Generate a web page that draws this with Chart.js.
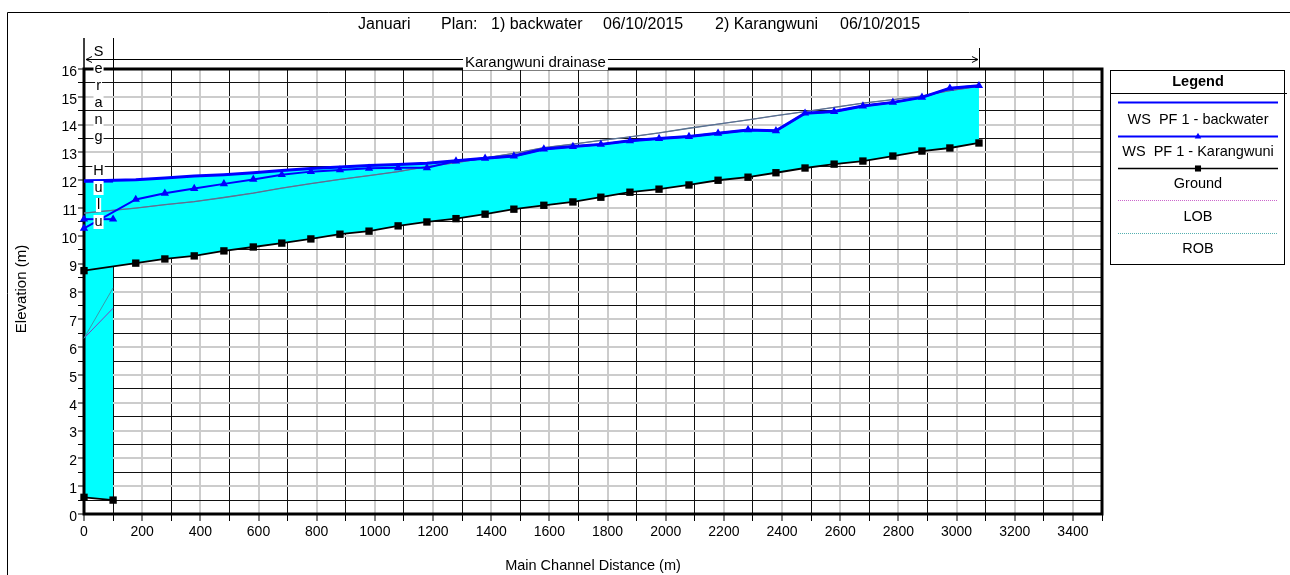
<!DOCTYPE html>
<html>
<head>
<meta charset="utf-8">
<title>Profil Karangwuni</title>
<script src="https://cdn.jsdelivr.net/npm/chart.js@4.4.1/dist/chart.umd.min.js"></script>
<style>
  html, body { margin: 0; padding: 0; background: #fff; }
  #wrap { width: 1290px; height: 575px; }
</style>
</head>
<body>
<div id="wrap"><canvas id="profile" width="1290" height="575"></canvas></div>
<script>
// Karangwuni drainase reach (main channel distance, m)
const stations = [0, 178, 278, 379, 481, 582, 680, 780, 880, 980, 1080, 1179, 1279, 1379, 1478,
  1581, 1681, 1777, 1877, 1977, 2080, 2180, 2283, 2379, 2479, 2579, 2678, 2781, 2881, 2977, 3077];
const groundElev = [8.75, 9.02, 9.17, 9.28, 9.46, 9.6, 9.74, 9.89, 10.06, 10.17, 10.36, 10.5, 10.62, 10.78, 10.96,
  11.1, 11.22, 11.39, 11.57, 11.68, 11.83, 12.0, 12.11, 12.27, 12.44, 12.58, 12.69, 12.87, 13.05, 13.16, 13.34];
const wsKarangwuni = [10.27, 11.31, 11.53, 11.7, 11.87, 12.03, 12.2, 12.31, 12.37, 12.43, 12.45, 12.45, 12.69, 12.79, 12.87,
  13.12, 13.21, 13.29, 13.42, 13.5, 13.57, 13.69, 13.81, 13.78, 14.41, 14.47, 14.67, 14.8, 14.98, 15.31, 15.4];
const wsBackwater = [11.97, 12.02, 12.08, 12.15, 12.2, 12.27, 12.35, 12.42, 12.48, 12.53, 12.57, 12.61, 12.7, 12.79, 12.87,
  13.12, 13.21, 13.29, 13.42, 13.5, 13.57, 13.69, 13.81, 13.78, 14.41, 14.47, 14.67, 14.8, 14.98, 15.31, 15.4];
const lobElev = [10.82, 11.0, 11.12, 11.23, 11.38, 11.54, 11.72, 11.88, 12.03, 12.17, 12.31, 12.49, 12.63, 12.8, 12.97,
  13.17, 13.3, 13.43, 13.56, 13.7, 13.87, 14.02, 14.17, 14.32, 14.47, 14.62, 14.77, 14.9, 15.03, 15.22, 15.38];
const robElev = lobElev;

// Serang Hulu reach
const shStations = [0, 100];
const shGround = [0.6, 0.5];
const shWsBackwater = [11.97, 11.97];
const shWsKarangwuni = [10.6, 10.6];
const shLob = [6.32, 7.4];
const shRob = [6.32, 8.13];

const legendLabels = ['WS  PF 1 - backwater', 'WS  PF 1 - Karangwuni', 'Ground', 'LOB', 'ROB'];
const titleParts = ['Januari', 'Plan:', '1) backwater', '06/10/2015', '2) Karangwuni', '06/10/2015'];

const FONT = 'Liberation Sans, Arial, sans-serif';
Chart.defaults.font.family = FONT;
Chart.defaults.color = '#000';

function pts(xs, ys) {
  return xs.map((x, i) => ({ x: x, y: ys[i] }));
}

const CYAN = '#00ffff';
const BLUE = '#0000ff';
const TRI_R = 4.8;
const SQ_R = 5.2;

const datasets = [
  // 0 - backwater WS, Karangwuni reach (fills down to ground, index 2)
  { label: 'bw', data: pts(stations, wsBackwater), borderColor: BLUE, borderWidth: 3, pointRadius: 0,
    fill: 2, backgroundColor: CYAN, order: 3 },
  // 1 - Karangwuni WS
  { label: 'kw', data: pts(stations, wsKarangwuni), borderColor: BLUE, borderWidth: 2,
    pointStyle: 'triangle', pointRadius: TRI_R, pointBackgroundColor: BLUE, pointBorderWidth: 0, fill: false, order: 0 },
  // 2 - ground
  { label: 'ground', data: pts(stations, groundElev), borderColor: '#000', borderWidth: 1.8,
    pointStyle: 'rect', pointRadius: SQ_R, pointBackgroundColor: '#000', pointBorderWidth: 0, fill: false, order: 1 },
  // 3,4 - banks
  { label: 'lob', data: pts(stations, lobElev), borderColor: '#9a6ab8', borderWidth: 1, pointRadius: 0, fill: false, order: 5 },
  { label: 'rob', data: pts(stations, robElev), borderColor: '#56758f', borderWidth: 1.3, pointRadius: 0, fill: false, order: 4 },
  // 5 - backwater WS, Serang Hulu (fills to its ground, index 7)
  { label: 'sh bw', data: pts(shStations, shWsBackwater), borderColor: BLUE, borderWidth: 3, pointRadius: 0,
    fill: 7, backgroundColor: CYAN, order: 3 },
  { label: 'sh kw', data: pts(shStations, shWsKarangwuni), borderColor: BLUE, borderWidth: 2,
    pointStyle: 'triangle', pointRadius: TRI_R, pointBackgroundColor: BLUE, pointBorderWidth: 0, fill: false, order: 0 },
  { label: 'sh ground', data: pts(shStations, shGround), borderColor: '#000', borderWidth: 1.8,
    pointStyle: 'rect', pointRadius: SQ_R, pointBackgroundColor: '#000', pointBorderWidth: 0, fill: false, order: 1 },
  { label: 'sh lob', data: pts(shStations, shLob), borderColor: '#8040c0', borderWidth: 1, pointRadius: 0, fill: false, order: 5 },
  { label: 'sh rob', data: pts(shStations, shRob), borderColor: '#3a9aaa', borderWidth: 1, pointRadius: 0, fill: false, order: 4 }
];
datasets.forEach(d => { d.clip = false; d.tension = 0; });

function isWhole(v) {
  return Math.abs(v - Math.round(v)) < 1e-6;
}

// frame, reach markers, titles and legend
const profileDecor = {
  id: 'profileDecor',
  beforeDatasetsDraw(chart) {
    const { ctx, chartArea: a } = chart;
    ctx.save();
    ctx.strokeStyle = '#000';
    ctx.lineWidth = 3;
    ctx.strokeRect(a.left, a.top, a.right - a.left, a.bottom - a.top);
    ctx.restore();
  },
  afterDraw(chart) {
    const { ctx, chartArea: a } = chart;
    const xs = chart.scales.x;
    const reachEnd = xs.getPixelForValue(stations[stations.length - 1]);
    const shEnd = xs.getPixelForValue(shStations[1]);
    ctx.save();
    ctx.fillStyle = '#000';
    ctx.strokeStyle = '#000';

    // outer frame
    ctx.lineWidth = 1;
    ctx.beginPath();
    ctx.moveTo(7.5, 575); ctx.lineTo(7.5, 12.5); ctx.lineTo(1290, 12.5);
    ctx.stroke();

    // title, spread out like the original header
    ctx.font = '16px ' + FONT;
    ctx.textAlign = 'left';
    ctx.textBaseline = 'middle';
    const titleX = [358, 441, 491, 603, 715, 840];
    titleParts.forEach((t, i) => ctx.fillText(t, titleX[i], 25));

    // axis titles
    ctx.textAlign = 'center';
    ctx.font = '14.5px ' + FONT;
    ctx.fillText('Main Channel Distance (m)', (a.left + a.right) / 2, 566);
    ctx.save();
    ctx.translate(22, 289);
    ctx.rotate(-Math.PI / 2);
    ctx.font = '15px ' + FONT;
    ctx.fillText('Elevation (m)', 0, 0);
    ctx.restore();

    // reach markers above the plot
    ctx.lineWidth = 1.5;
    ctx.beginPath();
    ctx.moveTo(a.left, 38); ctx.lineTo(a.left, a.top);
    ctx.stroke();
    ctx.lineWidth = 1;
    ctx.beginPath();
    ctx.moveTo(Math.round(shEnd) + 0.5, 38); ctx.lineTo(Math.round(shEnd) + 0.5, a.top);
    ctx.moveTo(Math.round(reachEnd) + 0.5, 48); ctx.lineTo(Math.round(reachEnd) + 0.5, a.top);
    ctx.moveTo(a.left + 2, 59.5); ctx.lineTo(reachEnd - 1, 59.5);
    // arrow heads
    ctx.moveTo(a.left + 8, 56.5); ctx.lineTo(a.left + 2, 59.5); ctx.lineTo(a.left + 8, 62.5);
    ctx.moveTo(reachEnd - 7, 56.5); ctx.lineTo(reachEnd - 1, 59.5); ctx.lineTo(reachEnd - 7, 62.5);
    ctx.stroke();

    ctx.font = '15px ' + FONT;
    const reachLabel = 'Karangwuni drainase';
    const rx = (a.left + reachEnd) / 2 + 4;
    const rw = ctx.measureText(reachLabel).width;
    ctx.fillStyle = '#fff';
    ctx.fillRect(rx - rw / 2 - 2, 54, rw + 4, 16);
    ctx.fillStyle = '#000';
    ctx.fillText(reachLabel, rx, 63);

    // vertical reach name for Serang Hulu
    ctx.font = '14.5px ' + FONT;
    const shName = 'Serang Hulu';
    const cx = (a.left + shEnd) / 2;
    for (let i = 0; i < shName.length; i++) {
      const ch = shName[i];
      if (ch === ' ') continue;
      const cy = 52 + i * 17;
      const w = ctx.measureText(ch).width;
      ctx.fillStyle = '#fff';
      ctx.fillRect(cx - w / 2 - 1, cy - 7, w + 2, 14);
      ctx.fillStyle = '#000';
      ctx.fillText(ch, cx, cy);
    }

    // legend
    const lx = 1110, ly = 70, lw = 174, lh = 194;
    ctx.lineWidth = 1;
    ctx.strokeStyle = '#000';
    ctx.strokeRect(lx + 0.5, ly + 0.5, lw, lh);
    ctx.beginPath();
    ctx.moveTo(lx, 93.5); ctx.lineTo(lx + lw + 3, 93.5);
    ctx.stroke();
    ctx.font = 'bold 14.5px ' + FONT;
    ctx.fillText('Legend', lx + lw / 2 + 1, 81.5);

    const sampleY = [102, 136, 168, 200, 233];
    const textY = [120, 152, 184, 217, 249];
    const x0 = 1118, x1 = 1278, mx = 1198;
    const styles = [
      { color: BLUE, width: 2, dash: [] },
      { color: BLUE, width: 2, dash: [], marker: 'triangle' },
      { color: '#000', width: 1.5, dash: [], marker: 'rect' },
      { color: '#cc66cc', width: 1, dash: [1, 1] },
      { color: '#55b0b0', width: 1, dash: [1, 1] }
    ];
    ctx.font = '14.5px ' + FONT;
    styles.forEach((s, i) => {
      ctx.save();
      ctx.strokeStyle = s.color;
      ctx.lineWidth = s.width;
      ctx.setLineDash(s.dash);
      ctx.beginPath();
      ctx.moveTo(x0, sampleY[i] + 0.5); ctx.lineTo(x1, sampleY[i] + 0.5);
      ctx.stroke();
      ctx.restore();
      if (s.marker) {
        ctx.fillStyle = s.color;
        Chart.helpers.drawPoint(ctx, { pointStyle: s.marker, radius: s.marker === 'rect' ? 4.3 : 3.8, rotation: 0, borderWidth: 0 },
          mx, sampleY[i] + 0.5);
      }
      ctx.fillStyle = '#000';
      ctx.fillText(legendLabels[i], mx, textY[i]);
    });
    ctx.restore();
  }
};

const tickFont = { family: FONT, size: 14 };

new Chart(document.getElementById('profile').getContext('2d'), {
  type: 'line',
  data: { datasets: datasets },
  options: {
    responsive: false,
    animation: false,
    events: [],
    layout: { padding: { top: 69, right: 188, left: 0, bottom: 0 } },
    plugins: {
      legend: { display: false },
      tooltip: { enabled: false },
      filler: { drawTime: 'beforeDatasetsDraw', propagate: false }
    },
    scales: {
      x: {
        type: 'linear',
        min: 0,
        max: 3500,
        afterFit: s => { s.height = 61; },
        border: { display: false },
        grid: {
          color: c => (c.tick && c.tick.value % 200 === 0) ? '#cccccc' : '#111111',
          lineWidth: c => (c.tick && c.tick.value % 200 === 0) ? 2 : 1,
          tickLength: 7,
          tickColor: '#000',
          tickWidth: 1
        },
        ticks: {
          stepSize: 100,
          autoSkip: false,
          maxRotation: 0,
          padding: 3,
          font: tickFont,
          color: '#000',
          callback: v => (v % 200 === 0 ? String(v) : '')
        }
      },
      y: {
        min: 0,
        max: 16,
        afterFit: s => { s.width = 84; },
        border: { display: false },
        grid: {
          color: c => (c.tick && isWhole(c.tick.value)) ? '#cccccc' : '#111111',
          lineWidth: c => (c.tick && isWhole(c.tick.value)) ? 2 : 1,
          tickLength: 6,
          tickColor: '#000',
          tickWidth: 1
        },
        ticks: {
          stepSize: 0.5,
          autoSkip: false,
          padding: 1,
          labelOffset: 3,
          font: tickFont,
          color: '#000',
          callback: v => (isWhole(v) ? String(Math.round(v)) : '')
        }
      }
    }
  },
  plugins: [profileDecor]
});
</script>
</body>
</html>
